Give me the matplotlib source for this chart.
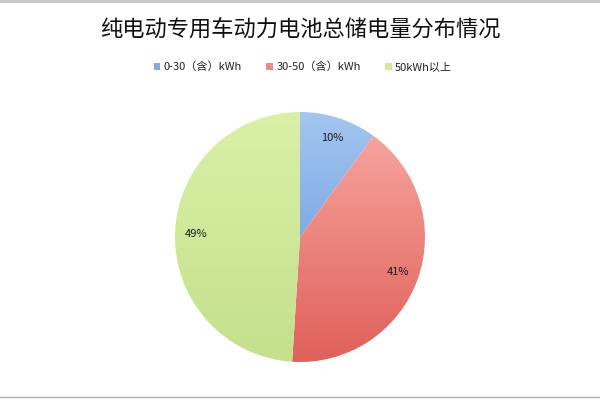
import numpy as np
import matplotlib
matplotlib.use("Agg")
import matplotlib.pyplot as plt
from matplotlib.patches import Patch
from matplotlib.colors import LinearSegmentedColormap

plt.rcParams['font.family'] = ['Noto Sans CJK SC', 'DejaVu Sans']

title = "纯电动专用车动力电池总储电量分布情况"
categories = ["0-30（含）kWh", "30-50（含）kWh", "50kWh以上"]
values = [10, 41, 49]
colors_light = ["#a3c6f0", "#f8aaa5", "#d9f0a6"]
colors_dark = ["#5a90d8", "#e0605a", "#c4e08c"]
colors_mid = ["#80abe4", "#ee8a85", "#d0e99a"]

fig = plt.figure(figsize=(6, 4), dpi=100)
fig.patch.set_facecolor("white")

# spreadsheet edge strips
fig.add_artist(plt.Rectangle((0, 0.992), 1, 0.008, transform=fig.transFigure,
                             color="#c8c8c8", lw=0))
fig.add_artist(plt.Line2D([0, 1], [0.008, 0.008], transform=fig.transFigure,
                          color="#b0b0b0", lw=1))

ax = fig.add_axes([175/600, 38/400, 250/600, 250/400])
wedges, texts, autotexts = ax.pie(values, startangle=90, counterclock=False,
                                  colors=colors_mid, autopct="%d%%",
                                  pctdistance=0.83,
                                  textprops=dict(fontsize=8, color="#1a1a1a",
                                                 fontweight="medium"),
                                  wedgeprops=dict(linewidth=0))
for w, cl, cd in zip(wedges, colors_light, colors_dark):
    cmap = LinearSegmentedColormap.from_list("g", [cd, cl])
    grad = np.linspace(0, 1, 256).reshape(-1, 1)
    im = ax.imshow(grad, cmap=cmap, extent=[-1, 1, -1, 1], origin="lower",
                   aspect="auto", zorder=1)
    im.set_clip_path(w)
    w.set_facecolor("none")
for t in autotexts:
    t.set_zorder(5)
ax.set_xlim(-1, 1)
ax.set_ylim(-1, 1)
ax.set_aspect("auto")
ax.axis("off")

fig.text(0.5, 0.925, title, ha="center", va="center", fontsize=16,
         color="#111111", fontweight="medium")

handles = [Patch(facecolor=c, edgecolor="none") for c in colors_mid]
fig.legend(handles, categories, loc="center", bbox_to_anchor=(0.505, 0.833),
           ncol=3, frameon=False, fontsize=8, handlelength=0.6, handleheight=0.6,
           handletextpad=0.3, columnspacing=2.2, labelcolor="#222222")

fig.savefig("out.png", dpi=100, facecolor="white")
